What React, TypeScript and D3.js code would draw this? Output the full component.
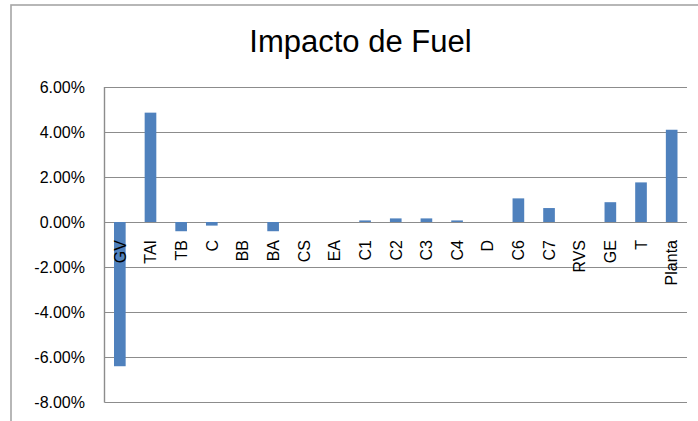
import React, { useEffect, useRef } from "react";
import * as d3 from "d3";

const categories = ["GV", "TAI", "TB", "C", "BB", "BA", "CS", "EA", "C1", "C2", "C3", "C4", "D", "C6", "C7", "RVS", "GE", "T", "Planta"];
const values = [-0.0641, 0.0486, -0.0041, -0.0016, 0, -0.0041, 0, 0, 0.0007, 0.0016, 0.0016, 0.0007, 0, 0.0105, 0.0062, 0, 0.0088, 0.0176, 0.041];
const yTicks = [0.06, 0.04, 0.02, 0, -0.02, -0.04, -0.06, -0.08];
const title = "Impacto de Fuel";

const W = 698;
const H = 421;
const FONT = "'Liberation Sans', Arial, sans-serif";

export default function App() {
  const ref = useRef<SVGSVGElement | null>(null);

  useEffect(() => {
    const svg = d3.select(ref.current);
    svg.selectAll("*").remove();

    const plot = { left: 104.5, right: 687, top: 87, bottom: 402 };

    const x = d3.scaleBand<string>().domain(categories).range([plot.left, plot.right]).paddingInner(0.62).paddingOuter(0.31);
    const y = d3.scaleLinear().domain([-0.08, 0.06]).range([plot.bottom, plot.top]);
    const fmt = (d: number) => d3.format(".2%")(d).replace("\u2212", "-");

    svg.append("rect").attr("width", W).attr("height", H).attr("fill", "#ffffff");

    // outer chart border (cropped at right/bottom)
    svg.append("rect")
      .attr("x", 11).attr("y", 5).attr("width", W + 20).attr("height", H + 20)
      .attr("fill", "none").attr("stroke", "#a6a6a6").attr("stroke-width", 1.6);

    svg.append("text")
      .attr("x", 360.5).attr("y", 52)
      .attr("text-anchor", "middle")
      .attr("font-family", FONT).attr("font-size", 31)
      .attr("fill", "#000").text(title);

    // gridlines
    svg.append("g").selectAll("line").data(yTicks).join("line")
      .attr("x1", plot.left).attr("x2", plot.right)
      .attr("y1", (d) => Math.round(y(d)) + 0.5).attr("y2", (d) => Math.round(y(d)) + 0.5)
      .attr("stroke", "#8c8c8c").attr("stroke-width", 1.2);

    // left axis line
    svg.append("line")
      .attr("x1", plot.left).attr("x2", plot.left)
      .attr("y1", plot.top).attr("y2", plot.bottom + 0.5)
      .attr("stroke", "#8c8c8c").attr("stroke-width", 1.4);

    // y tick labels
    svg.append("g").selectAll("text").data(yTicks).join("text")
      .attr("x", 85).attr("y", (d) => y(d))
      .attr("dy", "0.36em")
      .attr("text-anchor", "end")
      .attr("font-family", FONT).attr("font-size", 16).attr("fill", "#000")
      .text((d) => fmt(d));

    // bars
    svg.append("g").selectAll("rect").data(values).join("rect")
      .attr("x", (_, i) => x(categories[i])!)
      .attr("width", x.bandwidth())
      .attr("y", (d) => y(Math.max(0, d)))
      .attr("height", (d) => Math.abs(y(d) - y(0)))
      .attr("fill", "#4f81bd");

    // category labels
    svg.append("g").selectAll("text").data(categories).join("text")
      .attr("transform", (d) => `translate(${x(d)! + x.bandwidth() / 2},240) rotate(-90)`)
      .attr("dy", "0.36em")
      .attr("text-anchor", "end")
      .attr("font-family", FONT).attr("font-size", 16).attr("fill", "#000")
      .text((d) => d);
  }, []);

  return (
    <svg
      ref={ref}
      width={W}
      height={H}
      style={{ position: "absolute", left: 0, top: 0, display: "block" }}
    />
  );
}
